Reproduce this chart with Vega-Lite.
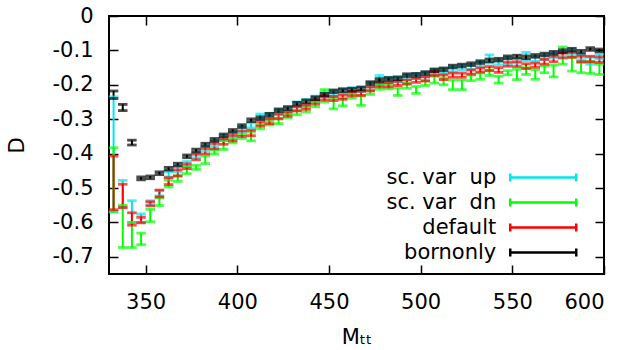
{
  "$schema": "https://vega.github.io/schema/vega-lite/v6.json",
  "width": 495,
  "height": 258,
  "autosize": {"type": "none"},
  "padding": {"left": 109, "top": 16, "right": 26, "bottom": 76},
  "config": {
    "font": "DejaVu Sans",
    "view": {"stroke": "black", "strokeWidth": 2},
    "axis": {
      "domain": false, "grid": false, "ticks": true, "tickSize": -9, "tickColor": "black", "tickWidth": 1.5,
      "labelFont": "DejaVu Sans", "labelFontSize": 21, "labelColor": "black",
      "titleFont": "DejaVu Sans", "titleFontSize": 21, "titleFontWeight": "normal", "titleColor": "black"
    }
  },
  "data": {"values": [
    {"s":"up","m":332.5,"lo":-0.57,"hi":-0.235},{"s":"up","m":337.5,"lo":-0.555,"hi":-0.478},{"s":"up","m":342.5,"lo":-0.6,"hi":-0.537},{"s":"up","m":347.5,"lo":-0.6,"hi":-0.575},{"s":"up","m":352.5,"lo":-0.549,"hi":-0.537},{"s":"up","m":357.5,"lo":-0.523,"hi":-0.507},{"s":"up","m":362.5,"lo":-0.468,"hi":-0.452},{"s":"up","m":367.5,"lo":-0.453,"hi":-0.437},{"s":"up","m":372.5,"lo":-0.437,"hi":-0.423},{"s":"up","m":377.5,"lo":-0.412,"hi":-0.398},{"s":"up","m":382.5,"lo":-0.392,"hi":-0.378},{"s":"up","m":387.5,"lo":-0.377,"hi":-0.363},{"s":"up","m":392.5,"lo":-0.362,"hi":-0.348},{"s":"up","m":397.5,"lo":-0.352,"hi":-0.338},{"s":"up","m":402.5,"lo":-0.337,"hi":-0.323},{"s":"up","m":407.5,"lo":-0.325,"hi":-0.311},{"s":"up","m":412.5,"lo":-0.299,"hi":-0.285},{"s":"up","m":417.5,"lo":-0.297,"hi":-0.283},{"s":"up","m":422.5,"lo":-0.287,"hi":-0.273},{"s":"up","m":427.5,"lo":-0.277,"hi":-0.263},{"s":"up","m":432.5,"lo":-0.264,"hi":-0.25},{"s":"up","m":437.5,"lo":-0.257,"hi":-0.243},{"s":"up","m":442.5,"lo":-0.247,"hi":-0.233},{"s":"up","m":447.5,"lo":-0.235,"hi":-0.221},{"s":"up","m":452.5,"lo":-0.232,"hi":-0.218},{"s":"up","m":457.5,"lo":-0.225,"hi":-0.211},{"s":"up","m":462.5,"lo":-0.223,"hi":-0.209},{"s":"up","m":467.5,"lo":-0.22,"hi":-0.206},{"s":"up","m":472.5,"lo":-0.207,"hi":-0.193},{"s":"up","m":477.5,"lo":-0.197,"hi":-0.173},{"s":"up","m":482.5,"lo":-0.192,"hi":-0.178},{"s":"up","m":487.5,"lo":-0.192,"hi":-0.178},{"s":"up","m":492.5,"lo":-0.185,"hi":-0.171},{"s":"up","m":497.5,"lo":-0.182,"hi":-0.168},{"s":"up","m":502.5,"lo":-0.177,"hi":-0.163},{"s":"up","m":507.5,"lo":-0.169,"hi":-0.155},{"s":"up","m":512.5,"lo":-0.167,"hi":-0.153},{"s":"up","m":517.5,"lo":-0.162,"hi":-0.148},{"s":"up","m":522.5,"lo":-0.157,"hi":-0.143},{"s":"up","m":527.5,"lo":-0.155,"hi":-0.141},{"s":"up","m":532.5,"lo":-0.147,"hi":-0.133},{"s":"up","m":537.5,"lo":-0.137,"hi":-0.113},{"s":"up","m":542.5,"lo":-0.142,"hi":-0.128},{"s":"up","m":547.5,"lo":-0.14,"hi":-0.12},{"s":"up","m":552.5,"lo":-0.137,"hi":-0.123},{"s":"up","m":557.5,"lo":-0.13,"hi":-0.106},{"s":"up","m":562.5,"lo":-0.132,"hi":-0.118},{"s":"up","m":567.5,"lo":-0.127,"hi":-0.113},{"s":"up","m":572.5,"lo":-0.122,"hi":-0.108},{"s":"up","m":577.5,"lo":-0.117,"hi":-0.103},{"s":"up","m":582.5,"lo":-0.112,"hi":-0.098},{"s":"up","m":587.5,"lo":-0.127,"hi":-0.113},{"s":"up","m":592.5,"lo":-0.14,"hi":-0.12},{"s":"up","m":597.5,"lo":-0.125,"hi":-0.111},
    {"s":"dn","m":332.5,"lo":-0.568,"hi":-0.383},{"s":"dn","m":337.5,"lo":-0.673,"hi":-0.55},{"s":"dn","m":342.5,"lo":-0.673,"hi":-0.6},{"s":"dn","m":347.5,"lo":-0.665,"hi":-0.631},{"s":"dn","m":352.5,"lo":-0.598,"hi":-0.562},{"s":"dn","m":357.5,"lo":-0.551,"hi":-0.529},{"s":"dn","m":362.5,"lo":-0.497,"hi":-0.477},{"s":"dn","m":367.5,"lo":-0.481,"hi":-0.465},{"s":"dn","m":372.5,"lo":-0.458,"hi":-0.438},{"s":"dn","m":377.5,"lo":-0.446,"hi":-0.434},{"s":"dn","m":382.5,"lo":-0.429,"hi":-0.407},{"s":"dn","m":387.5,"lo":-0.401,"hi":-0.389},{"s":"dn","m":392.5,"lo":-0.388,"hi":-0.362},{"s":"dn","m":397.5,"lo":-0.369,"hi":-0.357},{"s":"dn","m":402.5,"lo":-0.356,"hi":-0.344},{"s":"dn","m":407.5,"lo":-0.363,"hi":-0.337},{"s":"dn","m":412.5,"lo":-0.328,"hi":-0.316},{"s":"dn","m":417.5,"lo":-0.317,"hi":-0.305},{"s":"dn","m":422.5,"lo":-0.313,"hi":-0.297},{"s":"dn","m":427.5,"lo":-0.296,"hi":-0.284},{"s":"dn","m":432.5,"lo":-0.287,"hi":-0.275},{"s":"dn","m":437.5,"lo":-0.279,"hi":-0.265},{"s":"dn","m":442.5,"lo":-0.264,"hi":-0.25},{"s":"dn","m":447.5,"lo":-0.25,"hi":-0.214},{"s":"dn","m":452.5,"lo":-0.27,"hi":-0.24},{"s":"dn","m":457.5,"lo":-0.261,"hi":-0.239},{"s":"dn","m":462.5,"lo":-0.239,"hi":-0.227},{"s":"dn","m":467.5,"lo":-0.26,"hi":-0.232},{"s":"dn","m":472.5,"lo":-0.228,"hi":-0.216},{"s":"dn","m":477.5,"lo":-0.213,"hi":-0.201},{"s":"dn","m":482.5,"lo":-0.212,"hi":-0.198},{"s":"dn","m":487.5,"lo":-0.231,"hi":-0.209},{"s":"dn","m":492.5,"lo":-0.21,"hi":-0.196},{"s":"dn","m":497.5,"lo":-0.225,"hi":-0.205},{"s":"dn","m":502.5,"lo":-0.202,"hi":-0.188},{"s":"dn","m":507.5,"lo":-0.195,"hi":-0.175},{"s":"dn","m":512.5,"lo":-0.2,"hi":-0.18},{"s":"dn","m":517.5,"lo":-0.214,"hi":-0.186},{"s":"dn","m":522.5,"lo":-0.214,"hi":-0.186},{"s":"dn","m":527.5,"lo":-0.188,"hi":-0.172},{"s":"dn","m":532.5,"lo":-0.184,"hi":-0.166},{"s":"dn","m":537.5,"lo":-0.173,"hi":-0.157},{"s":"dn","m":542.5,"lo":-0.195,"hi":-0.175},{"s":"dn","m":547.5,"lo":-0.171,"hi":-0.159},{"s":"dn","m":552.5,"lo":-0.185,"hi":-0.155},{"s":"dn","m":557.5,"lo":-0.17,"hi":-0.15},{"s":"dn","m":562.5,"lo":-0.184,"hi":-0.156},{"s":"dn","m":567.5,"lo":-0.165,"hi":-0.145},{"s":"dn","m":572.5,"lo":-0.177,"hi":-0.143},{"s":"dn","m":577.5,"lo":-0.14,"hi":-0.09},{"s":"dn","m":582.5,"lo":-0.16,"hi":-0.12},{"s":"dn","m":587.5,"lo":-0.165,"hi":-0.135},{"s":"dn","m":592.5,"lo":-0.167,"hi":-0.133},{"s":"dn","m":597.5,"lo":-0.17,"hi":-0.14},
    {"s":"default","m":332.5,"lo":-0.563,"hi":-0.407},{"s":"default","m":337.5,"lo":-0.557,"hi":-0.489},{"s":"default","m":342.5,"lo":-0.608,"hi":-0.572},{"s":"default","m":347.5,"lo":-0.601,"hi":-0.585},{"s":"default","m":352.5,"lo":-0.552,"hi":-0.54},{"s":"default","m":357.5,"lo":-0.526,"hi":-0.506},{"s":"default","m":362.5,"lo":-0.49,"hi":-0.47},{"s":"default","m":367.5,"lo":-0.465,"hi":-0.447},{"s":"default","m":372.5,"lo":-0.444,"hi":-0.43},{"s":"default","m":377.5,"lo":-0.418,"hi":-0.402},{"s":"default","m":382.5,"lo":-0.401,"hi":-0.385},{"s":"default","m":387.5,"lo":-0.386,"hi":-0.37},{"s":"default","m":392.5,"lo":-0.373,"hi":-0.357},{"s":"default","m":397.5,"lo":-0.363,"hi":-0.347},{"s":"default","m":402.5,"lo":-0.35,"hi":-0.334},{"s":"default","m":407.5,"lo":-0.348,"hi":-0.332},{"s":"default","m":412.5,"lo":-0.32,"hi":-0.308},{"s":"default","m":417.5,"lo":-0.313,"hi":-0.299},{"s":"default","m":422.5,"lo":-0.299,"hi":-0.285},{"s":"default","m":427.5,"lo":-0.291,"hi":-0.279},{"s":"default","m":432.5,"lo":-0.276,"hi":-0.264},{"s":"default","m":437.5,"lo":-0.271,"hi":-0.259},{"s":"default","m":442.5,"lo":-0.256,"hi":-0.244},{"s":"default","m":447.5,"lo":-0.244,"hi":-0.232},{"s":"default","m":452.5,"lo":-0.246,"hi":-0.234},{"s":"default","m":457.5,"lo":-0.242,"hi":-0.23},{"s":"default","m":462.5,"lo":-0.232,"hi":-0.22},{"s":"default","m":467.5,"lo":-0.231,"hi":-0.219},{"s":"default","m":472.5,"lo":-0.218,"hi":-0.206},{"s":"default","m":477.5,"lo":-0.206,"hi":-0.194},{"s":"default","m":482.5,"lo":-0.206,"hi":-0.194},{"s":"default","m":487.5,"lo":-0.202,"hi":-0.19},{"s":"default","m":492.5,"lo":-0.198,"hi":-0.186},{"s":"default","m":497.5,"lo":-0.193,"hi":-0.181},{"s":"default","m":502.5,"lo":-0.189,"hi":-0.177},{"s":"default","m":507.5,"lo":-0.173,"hi":-0.161},{"s":"default","m":512.5,"lo":-0.185,"hi":-0.171},{"s":"default","m":517.5,"lo":-0.178,"hi":-0.166},{"s":"default","m":522.5,"lo":-0.178,"hi":-0.166},{"s":"default","m":527.5,"lo":-0.169,"hi":-0.157},{"s":"default","m":532.5,"lo":-0.163,"hi":-0.151},{"s":"default","m":537.5,"lo":-0.159,"hi":-0.147},{"s":"default","m":542.5,"lo":-0.164,"hi":-0.15},{"s":"default","m":547.5,"lo":-0.146,"hi":-0.134},{"s":"default","m":552.5,"lo":-0.147,"hi":-0.133},{"s":"default","m":557.5,"lo":-0.153,"hi":-0.139},{"s":"default","m":562.5,"lo":-0.149,"hi":-0.137},{"s":"default","m":567.5,"lo":-0.14,"hi":-0.126},{"s":"default","m":572.5,"lo":-0.133,"hi":-0.117},{"s":"default","m":577.5,"lo":-0.122,"hi":-0.108},{"s":"default","m":582.5,"lo":-0.12,"hi":-0.106},{"s":"default","m":587.5,"lo":-0.133,"hi":-0.117},{"s":"default","m":592.5,"lo":-0.133,"hi":-0.117},{"s":"default","m":597.5,"lo":-0.135,"hi":-0.119},
    {"s":"bornonly","m":332.5,"lo":-0.24,"hi":-0.218},{"s":"bornonly","m":337.5,"lo":-0.275,"hi":-0.257},{"s":"bornonly","m":342.5,"lo":-0.375,"hi":-0.361},{"s":"bornonly","m":347.5,"lo":-0.476,"hi":-0.468},{"s":"bornonly","m":352.5,"lo":-0.473,"hi":-0.465},{"s":"bornonly","m":357.5,"lo":-0.461,"hi":-0.453},{"s":"bornonly","m":362.5,"lo":-0.448,"hi":-0.44},{"s":"bornonly","m":367.5,"lo":-0.436,"hi":-0.428},{"s":"bornonly","m":372.5,"lo":-0.412,"hi":-0.404},{"s":"bornonly","m":377.5,"lo":-0.395,"hi":-0.387},{"s":"bornonly","m":382.5,"lo":-0.378,"hi":-0.37},{"s":"bornonly","m":387.5,"lo":-0.364,"hi":-0.356},{"s":"bornonly","m":392.5,"lo":-0.351,"hi":-0.343},{"s":"bornonly","m":397.5,"lo":-0.338,"hi":-0.33},{"s":"bornonly","m":402.5,"lo":-0.324,"hi":-0.316},{"s":"bornonly","m":407.5,"lo":-0.307,"hi":-0.299},{"s":"bornonly","m":412.5,"lo":-0.301,"hi":-0.293},{"s":"bornonly","m":417.5,"lo":-0.291,"hi":-0.283},{"s":"bornonly","m":422.5,"lo":-0.278,"hi":-0.27},{"s":"bornonly","m":427.5,"lo":-0.272,"hi":-0.264},{"s":"bornonly","m":432.5,"lo":-0.259,"hi":-0.251},{"s":"bornonly","m":437.5,"lo":-0.252,"hi":-0.244},{"s":"bornonly","m":442.5,"lo":-0.243,"hi":-0.235},{"s":"bornonly","m":447.5,"lo":-0.233,"hi":-0.225},{"s":"bornonly","m":452.5,"lo":-0.223,"hi":-0.215},{"s":"bornonly","m":457.5,"lo":-0.22,"hi":-0.212},{"s":"bornonly","m":462.5,"lo":-0.218,"hi":-0.21},{"s":"bornonly","m":467.5,"lo":-0.215,"hi":-0.207},{"s":"bornonly","m":472.5,"lo":-0.199,"hi":-0.191},{"s":"bornonly","m":477.5,"lo":-0.19,"hi":-0.182},{"s":"bornonly","m":482.5,"lo":-0.187,"hi":-0.179},{"s":"bornonly","m":487.5,"lo":-0.185,"hi":-0.177},{"s":"bornonly","m":492.5,"lo":-0.176,"hi":-0.168},{"s":"bornonly","m":497.5,"lo":-0.175,"hi":-0.167},{"s":"bornonly","m":502.5,"lo":-0.17,"hi":-0.162},{"s":"bornonly","m":507.5,"lo":-0.162,"hi":-0.154},{"s":"bornonly","m":512.5,"lo":-0.159,"hi":-0.151},{"s":"bornonly","m":517.5,"lo":-0.151,"hi":-0.143},{"s":"bornonly","m":522.5,"lo":-0.148,"hi":-0.14},{"s":"bornonly","m":527.5,"lo":-0.144,"hi":-0.136},{"s":"bornonly","m":532.5,"lo":-0.138,"hi":-0.13},{"s":"bornonly","m":537.5,"lo":-0.133,"hi":-0.125},{"s":"bornonly","m":542.5,"lo":-0.131,"hi":-0.123},{"s":"bornonly","m":547.5,"lo":-0.124,"hi":-0.116},{"s":"bornonly","m":552.5,"lo":-0.122,"hi":-0.114},{"s":"bornonly","m":557.5,"lo":-0.124,"hi":-0.116},{"s":"bornonly","m":562.5,"lo":-0.12,"hi":-0.112},{"s":"bornonly","m":567.5,"lo":-0.116,"hi":-0.108},{"s":"bornonly","m":572.5,"lo":-0.111,"hi":-0.103},{"s":"bornonly","m":577.5,"lo":-0.106,"hi":-0.098},{"s":"bornonly","m":582.5,"lo":-0.102,"hi":-0.094},{"s":"bornonly","m":587.5,"lo":-0.108,"hi":-0.1},{"s":"bornonly","m":592.5,"lo":-0.1,"hi":-0.092},{"s":"bornonly","m":597.5,"lo":-0.104,"hi":-0.096}
  ]},
  "resolve": {"axis": {"x": "independent", "y": "independent"}},
  "layer": [
    {
      "mark": {"type": "rule", "strokeWidth": 2},
      "encoding": {
        "x": {"field": "m", "type": "quantitative",
              "scale": {"domain": [330, 600], "nice": false, "zero": false},
              "axis": {"orient": "bottom", "values": [350, 400, 450, 500, 550, 600], "labelPadding": 26, "title": "Mₜₜ", "titlePadding": 14}},
        "y": {"field": "lo", "type": "quantitative",
              "scale": {"domain": [-0.75, 0], "nice": false, "zero": false},
              "axis": {"orient": "left", "values": [0, -0.1, -0.2, -0.3, -0.4, -0.5, -0.6, -0.7], "labelPadding": 25,
                       "labelExpr": "datum.value == 0 ? '0' : replace(datum.label, '\u2212', '-')", "title": "D", "titlePadding": 25}},
        "y2": {"field": "hi"},
        "stroke": {"field": "s", "type": "nominal",
                   "scale": {"domain": ["up", "dn", "default", "bornonly"], "range": ["#00e5ee", "#00ff00", "#ff0000", "#000000"]},
                   "legend": {"title": null, "orient": "none", "legendX": 400, "legendY": 150, "padding": 0, "rowPadding": 3,
                              "symbolType": "M-3.3,0H3.3M-3.3,-0.4V0.4M3.3,-0.4V0.4", "symbolSize": 400, "symbolOffset": 22.75,
                              "symbolStrokeWidth": 2.5, "symbolFillColor": "transparent",
                              "labelAlign": "right", "labelOffset": -58.5, "labelFontSize": 21, "labelFont": "DejaVu Sans", "labelColor": "black",
                              "labelExpr": "datum.label == 'up' ? 'sc. var \u00a0up' : datum.label == 'dn' ? 'sc. var \u00a0dn' : datum.label"}}
      }
    },
    {
      "transform": [{"fold": ["lo", "hi"], "as": ["end", "val"]}],
      "mark": {"type": "tick", "orient": "horizontal", "size": 9.5, "thickness": 2.8},
      "encoding": {
        "x": {"field": "m", "type": "quantitative",
              "axis": {"orient": "top", "values": [350, 400, 450, 500, 550, 600], "labels": false, "title": null}},
        "y": {"field": "val", "type": "quantitative",
              "axis": {"orient": "right", "values": [0, -0.1, -0.2, -0.3, -0.4, -0.5, -0.6, -0.7], "labels": false, "title": null}},
        "fill": {"field": "s", "type": "nominal",
                 "scale": {"domain": ["up", "dn", "default", "bornonly"], "range": ["#00e5ee", "#00ff00", "#ff0000", "#000000"]},
                 "legend": null}
      }
    }
  ]
}
